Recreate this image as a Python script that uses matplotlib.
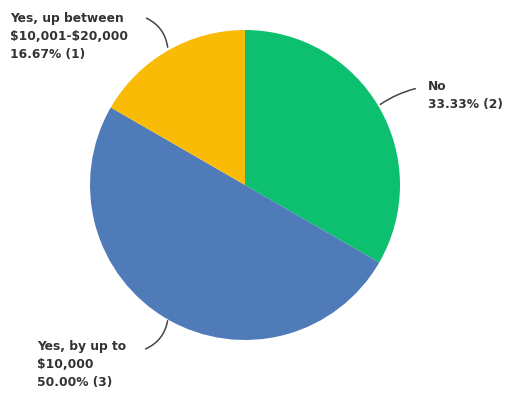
import matplotlib.pyplot as plt

plt.rcParams["text.parse_math"] = False

labels = ["No", "Yes, by up to\n$10,000", "Yes, up between\n$10,001-$20,000"]
counts = [2, 3, 1]
colors = ["#0cc070", "#4f7bb8", "#f9bb06"]

W, H = 506, 400
fig = plt.figure(figsize=(W / 100, H / 100), dpi=100)

# pie centre ~ (245, 185) px, radius ~155 px
cx, cy, r = 245, 185, 155
ax = fig.add_axes([(cx - r) / W, 1 - (cy + r) / H, 2 * r / W, 2 * r / H])
ax.pie(counts, colors=colors, startangle=90, counterclock=False, radius=1,
       wedgeprops=dict(linewidth=0))
ax.set_xlim(-1, 1)
ax.set_ylim(-1, 1)
ax.set_aspect("equal")
ax.axis("off")

total = sum(counts)
texts = [f"{lab}\n{c / total * 100:.2f}% ({c})" for lab, c in zip(labels, counts)]


def px(x, y):
    return x / W, 1 - y / H


txt_kw = dict(fontsize=8.8, fontweight="bold", color="#333333",
              linespacing=1.5, va="top", ha="left")
line_kw = dict(arrowstyle="-", color="#444444", lw=1.1)

# No
ax.annotate(texts[0], xy=px(378, 106), xycoords="figure fraction",
            xytext=px(428, 80), textcoords="figure fraction", **txt_kw)
ax.annotate("", xy=px(378, 106), xycoords="figure fraction",
            xytext=px(418, 88), textcoords="figure fraction",
            arrowprops=dict(connectionstyle="arc3,rad=0.1", **line_kw))

# Yes, by up to $10,000
ax.annotate(texts[1], xy=px(170, 318), xycoords="figure fraction",
            xytext=px(37, 340), textcoords="figure fraction", **txt_kw)
ax.annotate("", xy=px(168, 318), xycoords="figure fraction",
            xytext=px(143, 350), textcoords="figure fraction",
            arrowprops=dict(connectionstyle="arc3,rad=0.3", **line_kw))

# Yes, up between $10,001-$20,000
ax.annotate(texts[2], xy=px(168, 50), xycoords="figure fraction",
            xytext=px(10, 12), textcoords="figure fraction", **txt_kw)
ax.annotate("", xy=px(168, 50), xycoords="figure fraction",
            xytext=px(144, 17), textcoords="figure fraction",
            arrowprops=dict(connectionstyle="arc3,rad=-0.3", **line_kw))

fig.savefig("out.png", dpi=100)
